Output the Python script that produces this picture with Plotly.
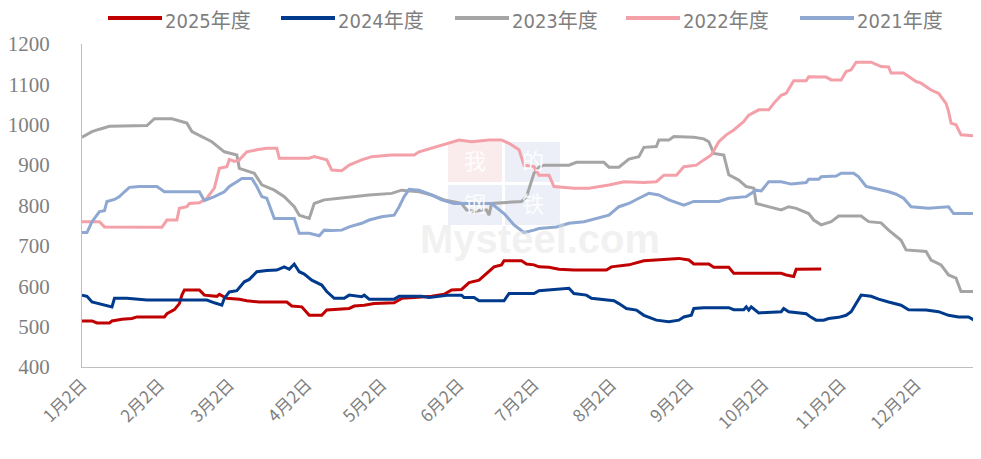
import pandas as pd
import plotly.graph_objects as go

# ---------------- data (day offset from Jan 2, value) ----------------
base_date = "2025-01-02"

days_2025 = [0, 4, 6, 11, 12, 16, 20, 22, 33, 34, 37, 39, 40, 41, 47, 49, 54, 55, 58, 63,
             66, 71, 82, 84, 88, 91, 96, 98, 107, 109, 113, 117, 125, 128, 133, 140, 145, 148, 152, 155,
             159, 163, 165, 168, 169, 176, 178, 181, 183, 187, 191, 197, 210, 212, 219, 225, 233, 239, 243, 245,
             251, 253, 259, 261, 280, 282, 285, 286, 296]
vals_2025 = [514, 514, 509, 509, 514, 518, 520, 524, 524, 532, 542, 557, 578, 591, 591, 578, 575, 580, 570, 568,
             564, 561, 561, 551, 549, 528, 528, 541, 545, 551, 553, 557, 559, 570, 572, 575, 580, 591, 592, 609,
             615, 636, 648, 653, 663, 663, 655, 653, 648, 647, 642, 640, 640, 648, 653, 663, 666, 669, 665, 655,
             655, 647, 647, 632, 632, 628, 624, 642, 643]

days_2024 = [0, 2, 4, 7, 9, 12, 13, 18, 26, 50, 53, 56, 57, 59, 62, 65, 67, 70, 74, 78,
             81, 83, 85, 87, 89, 92, 96, 98, 101, 105, 107, 112, 113, 115, 125, 127, 136, 139, 147, 152,
             153, 157, 159, 169, 171, 181, 183, 189, 195, 197, 202, 204, 207, 213, 215, 218, 222, 225, 230, 235,
             239, 241, 244, 245, 249, 259, 261, 265, 266, 267, 268, 271, 280, 281, 283, 290, 292, 294, 297, 299,
             303, 306, 308, 310, 312, 316, 319, 323, 328, 331, 338, 343, 347, 351, 355, 358, 360]
vals_2024 = [578, 575, 561, 557, 553, 549, 570, 570, 566, 566, 559, 553, 570, 586, 589, 611, 617, 636, 639, 640,
             648, 642, 655, 636, 630, 615, 603, 587, 570, 570, 578, 574, 578, 568, 568, 575, 575, 572, 578, 578,
             572, 572, 564, 564, 582, 582, 589, 592, 595, 582, 578, 570, 568, 564, 557, 545, 541, 528, 516, 512,
             516, 524, 528, 545, 547, 547, 542, 542, 549, 541, 549, 534, 537, 545, 537, 532, 523, 516, 516, 520,
             523, 528, 537, 557, 578, 575, 568, 561, 553, 542, 541, 537, 528, 524, 524, 513, 509]

days_2023 = [0, 4, 7, 11, 26, 29, 36, 38, 42, 44, 48, 52, 57, 62, 63, 69, 72, 77, 81, 85,
             87, 91, 93, 97, 103, 108, 115, 124, 128, 135, 140, 145, 152, 154, 157, 160, 162, 163, 164, 176,
             178, 181, 183, 185, 195, 198, 209, 211, 215, 219, 223, 225, 230, 231, 235, 237, 245, 249, 251, 253,
             257, 259, 263, 266, 269, 270, 277, 280, 283, 286, 291, 293, 296, 300, 303, 312, 315, 320, 323, 326,
             328, 330, 338, 340, 344, 347, 350, 352, 360]
vals_2023 = [969, 983, 989, 996, 998, 1015, 1015, 1011, 1004, 983, 971, 958, 933, 925, 892, 880, 851, 838, 822, 797,
             776, 768, 805, 814, 818, 822, 826, 830, 838, 834, 826, 814, 805, 789, 785, 789, 789, 776, 805, 810,
             822, 880, 895, 900, 900, 907, 907, 895, 895, 915, 921, 944, 946, 962, 962, 971, 969, 965, 958, 929,
             925, 876, 863, 847, 843, 805, 793, 789, 797, 793, 780, 764, 752, 760, 774, 774, 760, 757, 739, 723,
             714, 690, 686, 665, 653, 628, 620, 587, 587]

days_2022 = [0, 7, 9, 32, 34, 38, 39, 42, 43, 47, 50, 53, 55, 58, 59, 61, 63, 66, 70, 74,
             78, 79, 91, 93, 98, 100, 104, 107, 112, 116, 124, 133, 135, 140, 147, 151, 156, 163, 168, 171,
             175, 177, 181, 183, 187, 189, 197, 203, 211, 217, 225, 230, 233, 238, 241, 246, 249, 252, 255, 258,
             261, 265, 267, 271, 275, 277, 280, 282, 285, 290, 291, 298, 300, 304, 306, 308, 310, 316, 320, 323,
             324, 329, 334, 336, 340, 343, 346, 347, 348, 350, 352, 360]
vals_2022 = [760, 760, 747, 746, 764, 764, 793, 797, 805, 807, 818, 843, 892, 896, 914, 909, 913, 933, 938, 942,
             942, 917, 917, 921, 913, 888, 886, 900, 913, 921, 925, 925, 933, 942, 954, 962, 958, 962, 962, 954,
             938, 900, 896, 875, 875, 847, 843, 843, 851, 859, 857, 859, 875, 875, 896, 900, 913, 925, 958, 975,
             987, 1008, 1024, 1037, 1037, 1053, 1073, 1078, 1109, 1109, 1119, 1118, 1111, 1111, 1132, 1136, 1155, 1155, 1144, 1143,
             1128, 1128, 1107, 1103, 1086, 1078, 1053, 1033, 1004, 1000, 975, 971]

days_2021 = [0, 2, 4, 7, 9, 10, 13, 15, 17, 19, 23, 30, 33, 47, 49, 53, 57, 59, 62, 64,
             68, 70, 72, 74, 77, 85, 87, 91, 95, 97, 100, 104, 107, 112, 115, 120, 125, 127, 129, 131,
             135, 140, 144, 149, 164, 169, 173, 177, 181, 183, 190, 195, 201, 206, 211, 215, 219, 223, 227, 231,
             235, 241, 245, 255, 259, 266, 270, 272, 275, 280, 284, 290, 291, 295, 296, 302, 304, 309, 311, 314,
             319, 323, 326, 329, 332, 339, 347, 349, 360]
vals_2021 = [733, 733, 760, 785, 787, 810, 815, 822, 834, 845, 847, 847, 834, 834, 812, 822, 834, 847, 859, 867,
             867, 847, 822, 818, 768, 768, 731, 731, 725, 739, 738, 739, 747, 756, 764, 772, 776, 797, 822, 840,
             838, 826, 814, 805, 805, 780, 752, 733, 739, 743, 747, 756, 760, 768, 776, 797, 805, 818, 830, 826,
             814, 801, 810, 810, 818, 822, 838, 836, 859, 859, 853, 857, 865, 865, 871, 873, 880, 880, 871, 847,
             840, 834, 828, 818, 797, 793, 797, 780, 780]

series_names = ["2025年度", "2024年度", "2023年度", "2022年度", "2021年度"]
series_days = [days_2025, days_2024, days_2023, days_2022, days_2021]
series_vals = [vals_2025, vals_2024, vals_2023, vals_2022, vals_2021]
series_colors = ["#C00000", "#003A8C", "#A5A5A5", "#F4A0A8", "#8EA8D2"]

tick_dates = ["2025-01-02", "2025-02-02", "2025-03-02", "2025-04-02", "2025-05-02", "2025-06-02",
              "2025-07-02", "2025-08-02", "2025-09-02", "2025-10-02", "2025-11-02", "2025-12-02"]
tick_labels = ["1月2日", "2月2日", "3月2日", "4月2日", "5月2日", "6月2日",
               "7月2日", "8月2日", "9月2日", "10月2日", "11月2日", "12月2日"]

# ---------------- figure geometry ----------------
# the html page body has an 8px margin, so the figure is sized to fill the rest of the window
OFF = 8
W, H = 981 - OFF, 459 - OFF
PLOT_L, PLOT_R, PLOT_T, PLOT_B = 82, 981, 44, 367          # window pixel positions of the plot area
ML, MR, MT, MB = PLOT_L - OFF, (981 - PLOT_R), PLOT_T - OFF, (459 - PLOT_B)
PW, PH = W - ML - MR, H - MT - MB


def px_x(p):
    return (p - PLOT_L) / PW


def px_y(p):
    return (PLOT_B - p) / PH


fig = go.Figure()
base = pd.Timestamp(base_date)
for name, d, v, c in zip(series_names, series_days, series_vals, series_colors):
    x = base + pd.to_timedelta(d, unit="D")
    fig.add_trace(go.Scatter(x=x, y=v, mode="lines", name=name,
                             line=dict(color=c, width=3), showlegend=False))

grey = "#7F7F7F"
axis_line = "#BFBFBF"

# legend drawn in the top band (line sample + label)
legend_line_start = [108, 281, 455, 626, 800]
legend_y = 18
for name, c, x0 in zip(series_names, series_colors, legend_line_start):
    fig.add_shape(type="line", xref="paper", yref="paper",
                  x0=px_x(x0), x1=px_x(x0 + 54), y0=px_y(legend_y), y1=px_y(legend_y),
                  line=dict(color=c, width=4))
    fig.add_annotation(xref="paper", yref="paper", x=px_x(x0 + 56), y=px_y(OFF),
                       xanchor="left", yanchor="top", borderpad=0, text=name, showarrow=False,
                       font=dict(family="DejaVu Sans Condensed, Noto Sans CJK SC", size=20, color=grey))

# watermark (behind the data)
wm_boxes = [(448, 502, 142, 182, "rgba(240,200,200,0.35)", "我"),
            (505, 560, 142, 182, "rgba(200,210,232,0.35)", "的"),
            (448, 502, 185, 225, "rgba(200,210,232,0.35)", "钢"),
            (505, 560, 185, 225, "rgba(200,210,232,0.35)", "铁")]
for x0, x1, y0, y1, col, ch in wm_boxes:
    fig.add_shape(type="rect", xref="paper", yref="paper", x0=px_x(x0), x1=px_x(x1),
                  y0=px_y(y1), y1=px_y(y0), fillcolor=col, line=dict(width=0), layer="below")
    fig.add_annotation(xref="paper", yref="paper", x=px_x((x0 + x1) / 2), y=px_y((y0 + y1) / 2 - 3),
                       text=ch, showarrow=False, borderpad=0,
                       font=dict(size=22, color="rgba(255,255,255,0.9)", family="Noto Sans CJK SC"))
fig.add_annotation(xref="paper", yref="paper", x=px_x(540), y=px_y(239), text="<b>Mysteel.com</b>",
                   showarrow=False, borderpad=0,
                   font=dict(size=40, color="rgba(225,225,225,0.45)", family="Liberation Sans"))

fig.update_layout(
    width=W, height=H,
    margin=dict(l=ML, r=MR, t=MT, b=MB),
    paper_bgcolor="white", plot_bgcolor="white",
    showlegend=False,
    xaxis=dict(type="date", range=["2025-01-02", "2025-12-28"],
               tickvals=tick_dates, ticktext=tick_labels, tickangle=-45,
               showline=True, linecolor=axis_line, linewidth=1, showgrid=False, zeroline=False,
               ticks="", tickfont=dict(family="Noto Sans CJK SC", size=17, color=grey)),
    yaxis=dict(range=[400, 1200], dtick=100, tick0=400,
               showline=True, linecolor=axis_line, linewidth=1, showgrid=False, zeroline=False,
               ticks="", ticklabelstandoff=27,
               tickfont=dict(family="Liberation Serif", size=21, color=grey)),
)

fig.write_html("out.html")
